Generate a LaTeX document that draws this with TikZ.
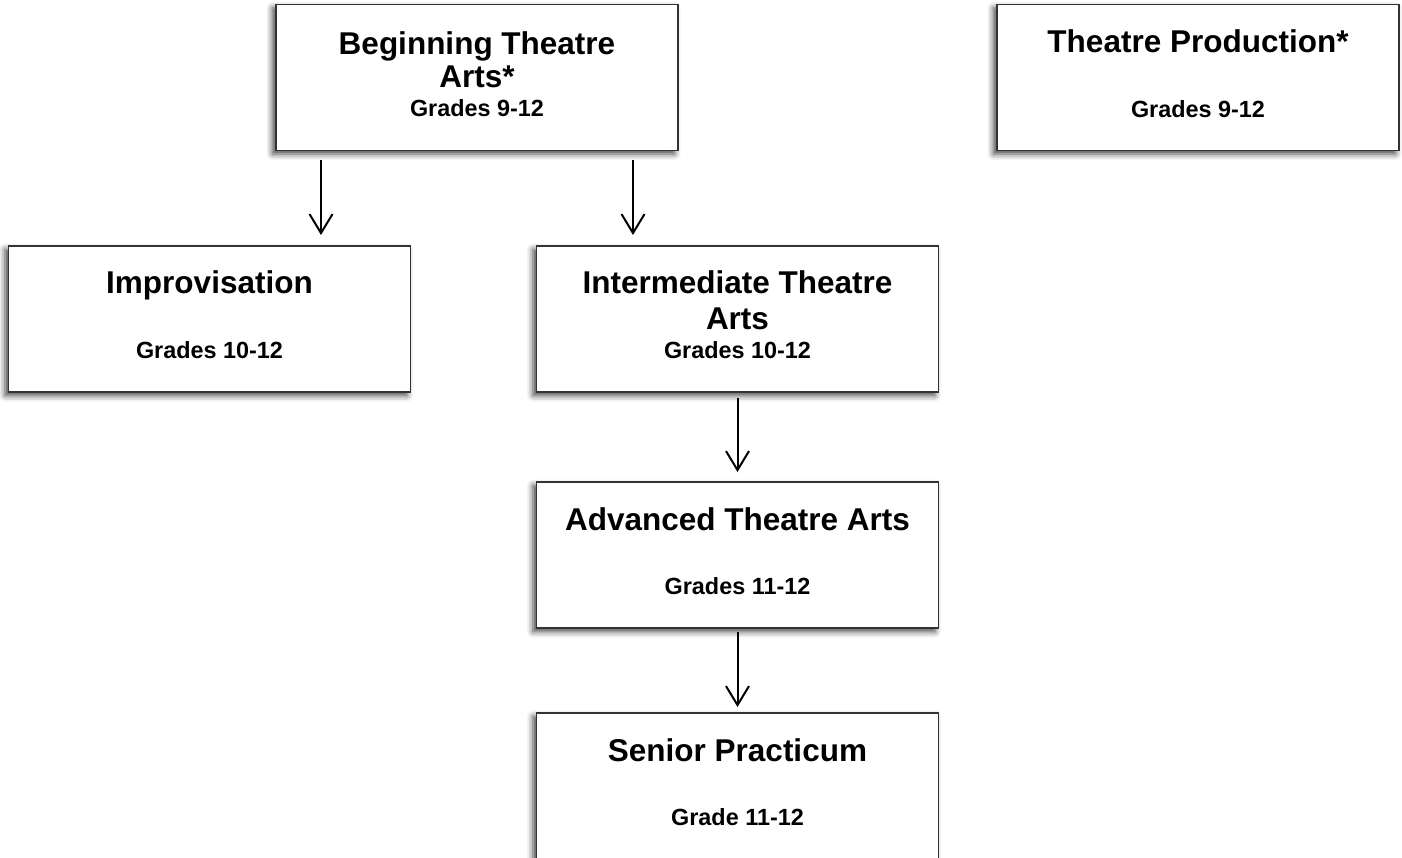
\documentclass[tikz,border=0pt]{standalone}
\usepackage{fontspec}
\setmainfont{Liberation Sans}
\usetikzlibrary{arrows.meta,shadows.blur,calc}
\begin{document}
\begin{tikzpicture}[x=1pt,y=-1pt,
  course/.style={draw=black!80, line width=1.8pt, fill=white, rectangle,
    minimum width=402pt, minimum height=146pt, inner sep=0pt, outer sep=0pt,
    blur shadow={shadow xshift=-3.5pt, shadow yshift=-3.5pt, shadow blur radius=6pt, shadow opacity=75}},
  ttl/.style={anchor=base, inner sep=0pt, font=\bfseries\fontsize{31.5}{36}\selectfont},
  grd/.style={anchor=base, inner sep=0pt, font=\bfseries\fontsize{23.4}{28}\selectfont},
  arr/.style={line width=2pt, -{Straight Barb[length=19pt,width=23pt,line width=2pt]}}
]
\useasboundingbox (0,0) rectangle (1402,858);

\node[course] (beg) at (477,77.5) {};
\node[course] (prod) at (1198,77.5) {};
\node[course] (imp) at (209.5,319) {};
\node[course] (int) at (737.5,319) {};
\node[course] (adv) at (737.5,555) {};
\node[course] (sen) at (737.5,786) {};

% Beginning Theatre Arts
\node[ttl] (begA) at ([yshift=-50pt]beg.north) {Beginning Theatre};
\node[ttl] (begB) at ([yshift=-83pt]beg.north) {Arts*};
\node[grd] (begG) at ([yshift=-112pt]beg.north) {Grades 9-12};

% Theatre Production
\node[ttl] (prodA) at ([yshift=-48pt]prod.north) {Theatre Production*};
\node[grd] (prodG) at ([yshift=-113pt]prod.north) {Grades 9-12};

% Improvisation
\node[ttl] (impA) at ([yshift=-48pt]imp.north) {Improvisation};
\node[grd] (impG) at ([yshift=-112pt]imp.north) {Grades 10-12};

% Intermediate
\node[ttl] (intA) at ([yshift=-48pt]int.north) {Intermediate Theatre};
\node[ttl] (intB) at ([yshift=-84pt]int.north) {Arts};
\node[grd] (intG) at ([yshift=-112pt]int.north) {Grades 10-12};

% Advanced
\node[ttl] (advA) at ([yshift=-48pt]adv.north) {Advanced Theatre Arts};
\node[grd] (advG) at ([yshift=-112pt]adv.north) {Grades 11-12};

% Senior
\node[ttl] (senA) at ([yshift=-48pt]sen.north) {Senior Practicum};
\node[grd] (senG) at ([yshift=-112pt]sen.north) {Grade 11-12};

% arrows
\draw[arr, shorten <=10pt, shorten >=11pt] ([xshift=45pt]beg.south west) -- ([xshift=45pt]beg.south west |- imp.north);
\draw[arr, shorten <=10pt, shorten >=11pt] ([xshift=-45pt]beg.south east) -- ([xshift=-45pt]beg.south east |- int.north);
\draw[arr, shorten <=6pt, shorten >=10pt] (int.south) -- (adv.north);
\draw[arr, shorten <=4pt, shorten >=6pt] (adv.south) -- (sen.north);
\end{tikzpicture}
\end{document}
